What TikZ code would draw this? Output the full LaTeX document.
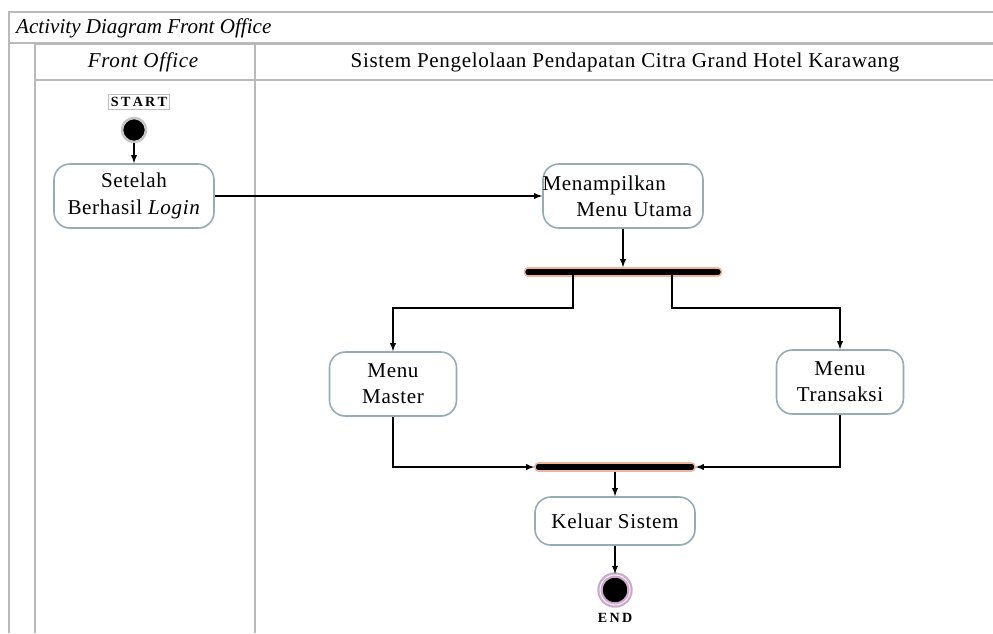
\documentclass[tikz,border=0pt]{standalone}
\usepackage{fontspec}
\setmainfont[LetterSpace=3]{Liberation Serif}
\usetikzlibrary{positioning,shadows}

\definecolor{boxline}{RGB}{150,172,178}
\definecolor{barline}{RGB}{238,180,160}
\definecolor{endring}{RGB}{205,170,205}

\tikzset{
  actbox/.style={draw=boxline, fill=white, rounded corners=9pt, line width=0.9pt,
    minimum width=160*0.2mm, minimum height=64*0.2mm, align=center,
    drop shadow={shadow xshift=0.4pt, shadow yshift=-0.6pt, fill=gray!35}},
  forkbar/.style={draw=barline, fill=black, line width=0.9pt, rounded corners=2pt,
    minimum height=8*0.2mm, inner sep=0pt},
  flow/.style={-latex, line width=0.6pt},
  lane/.style={draw=gray!55, line width=0.8pt}
}

\begin{document}
\begin{tikzpicture}[x=0.2mm, y=-0.2mm, font=\fontsize{12}{15}\selectfont]
\useasboundingbox (0,0) rectangle (993,633);

% frame and swimlanes
\draw[lane] (9,633) -- (9,12) -- (993,12);
\draw[lane] (9,43) -- (993,43);
\draw[lane] (35,633) -- (35,44) -- (255,44);
\draw[lane] (255,633) -- (255,44) -- (993,44);
\draw[lane, line width=1.4pt] (35,80) -- (993,80);
\node (title) [anchor=west, font=\fontsize{12}{14}\selectfont\itshape\addfontfeatures{LetterSpace=0}] at (10,28) {Activity Diagram Front Office};
\node (laneFO) at (143,62) {\itshape Front Office};
\node (laneSys) at (625,62) {Sistem Pengelolaan Pendapatan Citra Grand Hotel Karawang};

% start and end
\node (startlbl) [draw=gray!50, fill=white, inner sep=1.5pt, font=\fontsize{8}{9}\selectfont\bfseries] at (139,102) {S\,T\,A\,R\,T};
\node (start) [circle, fill=black, draw=gray!45, line width=1.5pt, minimum size=24*0.2mm, inner sep=0pt] at (134,130) {};

% activities
\node (login) [actbox] at (134,196) {Setelah\\Berhasil \textit{Login}};
\node (utama) [actbox] at (623,196) {};
\node (utamatxt) [anchor=west, align=left, inner sep=0pt] at (utama.west) {Menampilkan\\\hspace{1.6em}Menu Utama};
\node (fork) [forkbar, minimum width=197*0.2mm] at (623,272) {};
\node (master) [actbox, minimum width=127*0.2mm] at (393,384) {Menu\\Master};
\node (transaksi) [actbox, minimum width=127*0.2mm] at (840,382) {Menu\\Transaksi};
\node (join) [forkbar, minimum width=160*0.2mm] at (615,467) {};
\node (keluar) [actbox, minimum height=48*0.2mm] at (615,521) {Keluar Sistem};
\node (end) [circle, fill=black, draw=endring, line width=1.3pt, minimum size=30*0.2mm, inner sep=0pt,
  double=white, double distance=0.5pt] at (615,590) {};
\node (endlbl) [font=\fontsize{8}{9}\selectfont\bfseries] at (615,618) {E\,N\,D};

% flows
\draw[flow] (start) -- (login);
\draw[flow] (login) -- (utama);
\draw[flow] (utama) -- (fork);
\coordinate (f1) at (573,272);
\coordinate (f2) at (672,272);
\draw[flow] (f1) -- (573,308) -| (master);
\draw[flow] (f2) -- (672,308) -| (transaksi);
\draw[flow] (master) |- (join);
\draw[flow] (transaksi) |- (join);
\draw[flow] (join) -- (keluar);
\draw[flow] (keluar) -- (end);
\end{tikzpicture}
\end{document}
